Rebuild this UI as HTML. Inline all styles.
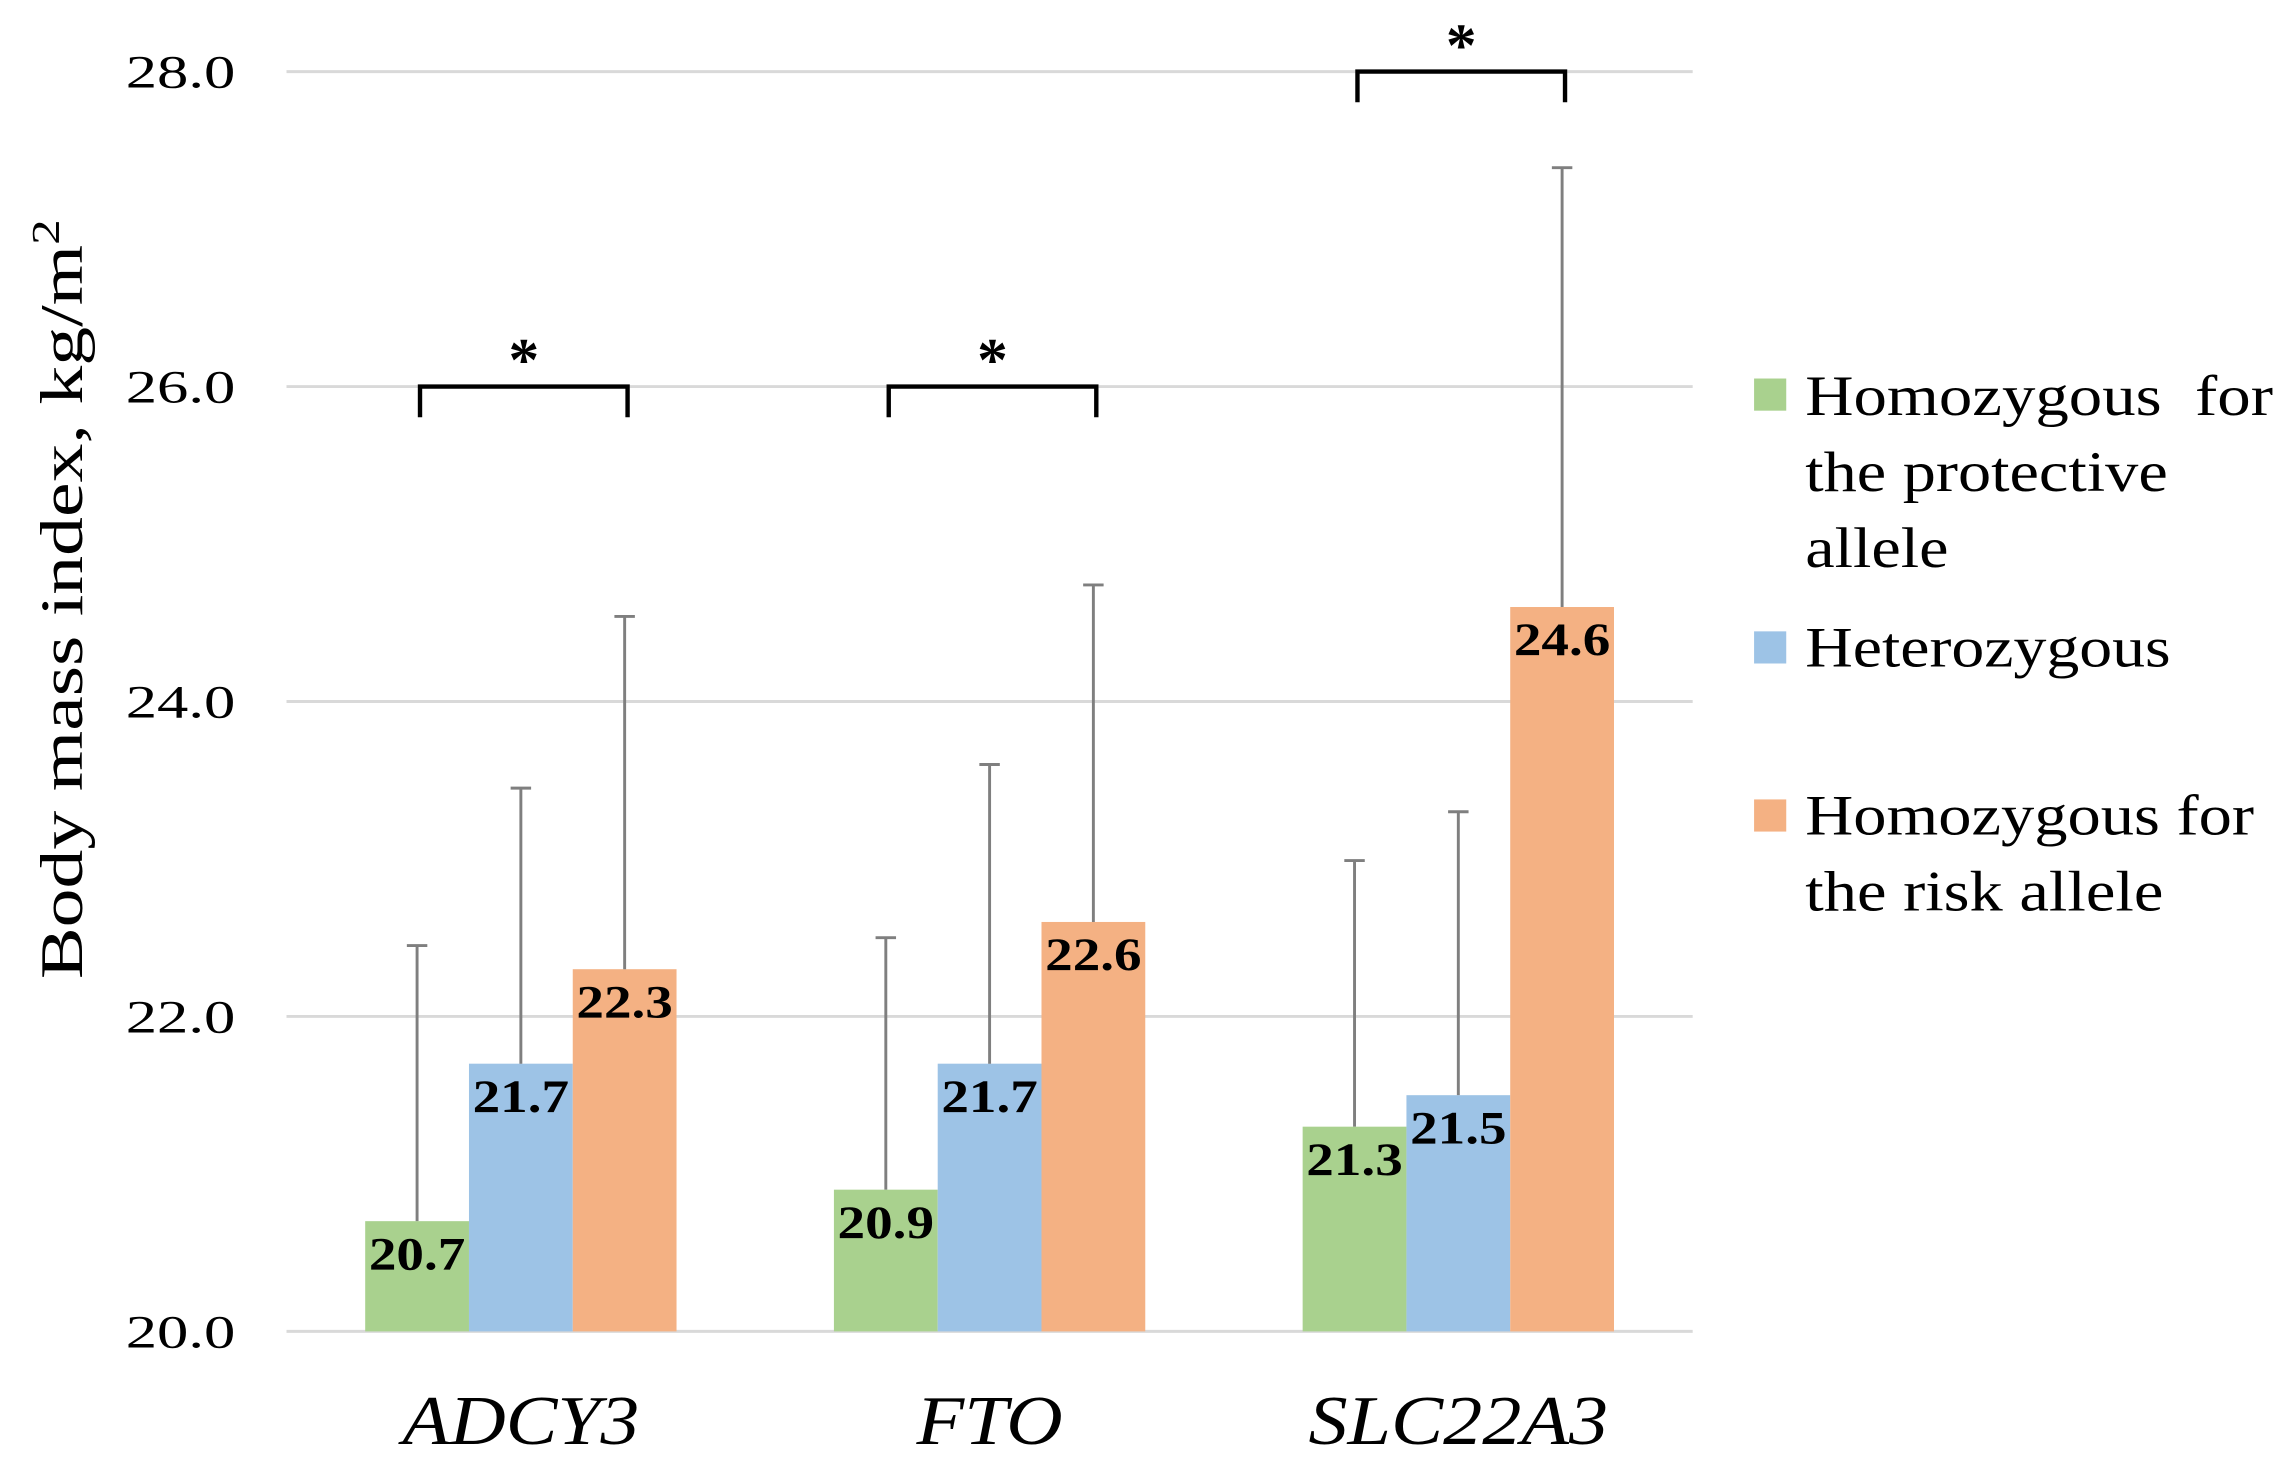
<!DOCTYPE html>
<html><head><meta charset="utf-8"><style>
html,body{margin:0;padding:0;background:#fff;}
svg{display:block;font-family:"Liberation Serif",serif;}
</style></head><body>
<svg id="chart" width="2292" height="1479" viewBox="0 0 1568 1012" preserveAspectRatio="none" xmlns="http://www.w3.org/2000/svg">
<g id="grid"></g>
<g id="yticks"></g>
<text transform="translate(56,410) rotate(-90)" text-anchor="middle" font-size="41" fill="#000" textLength="520" lengthAdjust="spacingAndGlyphs">Body mass index, kg/m<tspan font-size="27" dy="-16">2</tspan></text>
<g id="bars"></g>
<g id="errs"></g>
<g id="labels"></g>
<g id="brackets"></g>
<g id="xlabels"></g>
<g font-size="39" fill="#000">
  <rect x="1200" y="259" width="22" height="22" fill="#a9d18e"/>
  <text x="1235" y="284" xml:space="preserve" textLength="320" lengthAdjust="spacingAndGlyphs">Homozygous  for</text>
  <text x="1235" y="336" textLength="248" lengthAdjust="spacingAndGlyphs">the protective</text>
  <text x="1235" y="388" textLength="98" lengthAdjust="spacingAndGlyphs">allele</text>
  <rect x="1200" y="432" width="22" height="22" fill="#9dc3e6"/>
  <text x="1235" y="456" textLength="250" lengthAdjust="spacingAndGlyphs">Heterozygous</text>
  <rect x="1200" y="547" width="22" height="22" fill="#f4b183"/>
  <text x="1235" y="571" textLength="307" lengthAdjust="spacingAndGlyphs">Homozygous for</text>
  <text x="1235" y="623" textLength="245" lengthAdjust="spacingAndGlyphs">the risk allele</text>
</g>
</svg>
<script>
const categories = ["ADCY3", "FTO", "SLC22A3"];
const protectiveValues = [20.7, 20.9, 21.3];
const heteroValues = [21.7, 21.7, 21.5];
const riskValues = [22.3, 22.6, 24.6];
const protectiveErrTop = [22.45, 22.5, 22.99];
const heteroErrTop = [23.45, 23.6, 23.3];
const riskErrTop = [24.54, 24.74, 27.39];
const yTicks = [20, 22, 24, 26, 28];
const yTickLabels = ["20.0", "22.0", "24.0", "26.0", "28.0"];
const bracketLevels = [26, 26, 28];

const NS = "http://www.w3.org/2000/svg";
const plotL = 196, plotR = 1158, yMin = 20, yMax = 28, pxTop = 49, pxBot = 911;
function y(v){ return pxBot - (v - yMin) / (yMax - yMin) * (pxBot - pxTop); }
const catW = (plotR - plotL) / categories.length;
const barW = 71;
function cx(i){ return plotL + catW * (i + 0.5); }
function bx(i, s){ return cx(i) - 1.5 * barW + s * barW; }
function mk(tag, attrs, parent){ const e = document.createElementNS(NS, tag); for (const k in attrs) e.setAttribute(k, attrs[k]); parent.appendChild(e); return e; }
const xLabelWidths = {ADCY3: 162, FTO: 100, SLC22A3: 205};

const grid = document.getElementById("grid"), yt = document.getElementById("yticks");
yTicks.forEach((t, i) => {
  const l = mk("line", {x1: plotL, x2: plotR, y1: y(t), y2: y(t), stroke: "#d9d9d9", "stroke-width": 2}, grid);
  
  
  const tx = mk("text", {x: 161, y: y(t) + 11, "text-anchor": "end", "font-size": 32, fill: "#000", textLength: 75, lengthAdjust: "spacingAndGlyphs"}, yt);
  tx.textContent = yTickLabels[i];
  
  
});

const series = [
  {vals: protectiveValues, err: protectiveErrTop, color: "#a9d18e", name: "protective"},
  {vals: heteroValues, err: heteroErrTop, color: "#9dc3e6", name: "heterozygous"},
  {vals: riskValues, err: riskErrTop, color: "#f4b183", name: "risk"}
];
const bars = document.getElementById("bars"), errs = document.getElementById("errs"), labels = document.getElementById("labels");
series.forEach((s, si) => {
  categories.forEach((c, i) => {
    const x0 = bx(i, si), v = s.vals[i];
    const r = mk("rect", {x: x0, y: y(v), width: barW, height: y(yMin) - y(v), fill: s.color}, bars);
    
    
    const mx = x0 + barW / 2;
    const e = mk("path", {d: `M${mx},${y(v)}V${y(s.err[i])}M${mx-7},${y(s.err[i])}H${mx+7}`, stroke: "#7f7f7f", "stroke-width": 2, fill: "none"}, errs);
    
    
    const t = mk("text", {x: mx, y: y(v) + 33, "text-anchor": "middle", "font-size": 32, "font-weight": "bold", fill: "#000", textLength: 66, lengthAdjust: "spacingAndGlyphs"}, labels);
    t.textContent = v.toFixed(1);
    
    
  });
});

const br = document.getElementById("brackets"), xl = document.getElementById("xlabels");
categories.forEach((c, i) => {
  const x1 = bx(i, 0) + barW / 2 + 2, x2 = bx(i, 2) + barW / 2 + 2, yy = y(bracketLevels[i]);
  const p = mk("path", {d: `M${x1},${yy+21}V${yy}H${x2}V${yy+21}`, stroke: "#000", "stroke-width": 3, fill: "none"}, br);
  
  
  const st = mk("text", {x: (x1 + x2) / 2, y: yy - 4, "text-anchor": "middle", "font-size": 42, "font-weight": "bold", fill: "#000"}, br);
  st.textContent = "*";
  
  
  const t = mk("text", {x: cx(i), y: 988, "text-anchor": "middle", "font-size": 48, "font-style": "italic", fill: "#000", textLength: xLabelWidths[c] || 150, lengthAdjust: "spacingAndGlyphs"}, xl);
  t.textContent = c;
  
  
});
</script>
</body></html>
